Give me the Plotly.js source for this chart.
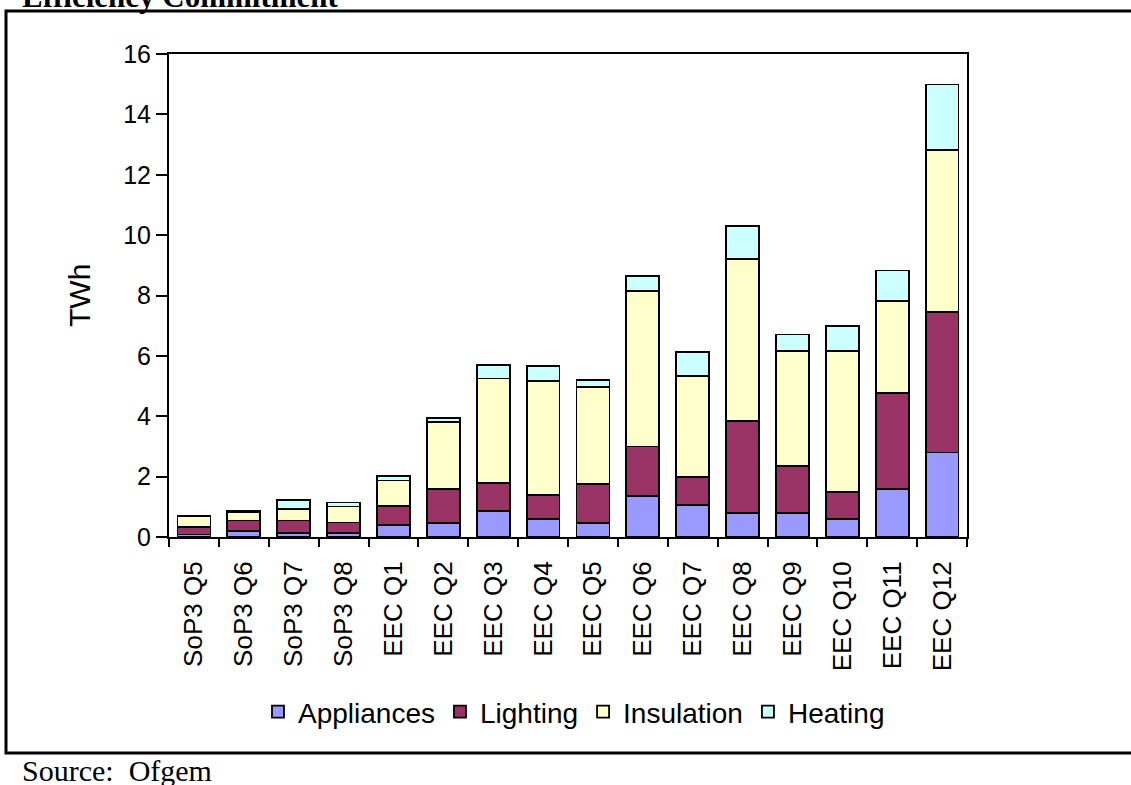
<!DOCTYPE html>
<html>
<head>
<meta charset="utf-8">
<script src="https://cdn.plot.ly/plotly-3.0.1.min.js"></script>
<style>html,body{margin:0;padding:0;background:#fff;}#chart{width:1131px;height:785px;}</style>
</head>
<body>
<div id="chart"></div>
<script>
const categories = ["SoP3 Q5","SoP3 Q6","SoP3 Q7","SoP3 Q8","EEC Q1","EEC Q2","EEC Q3","EEC Q4","EEC Q5","EEC Q6","EEC Q7","EEC Q8","EEC Q9","EEC Q10","EEC Q11","EEC Q12"];
const appliances = [0.08,0.20,0.13,0.12,0.41,0.47,0.86,0.60,0.47,1.35,1.07,0.80,0.80,0.60,1.60,2.80];
const lighting   = [0.26,0.35,0.42,0.36,0.61,1.13,0.93,0.80,1.28,1.65,0.93,3.05,1.54,0.88,3.17,4.65];
const insulation = [0.36,0.27,0.38,0.53,0.85,2.20,3.46,3.77,3.23,5.16,3.33,5.37,3.83,4.68,3.06,5.37];
const heating    = [0.00,0.05,0.29,0.13,0.15,0.13,0.46,0.50,0.22,0.49,0.79,1.08,0.54,0.83,1.00,2.17];
const seriesNames = ["Appliances","Lighting","Insulation","Heating"];
const seriesColors = ["#9999FF","#993366","#FFFFCC","#CCFFFF"];
const seriesData = [appliances, lighting, insulation, heating];
const yTicks = [0,2,4,6,8,10,12,14,16];

const FONT = "Liberation Sans, Arial, sans-serif";
const SERIF = "Liberation Serif, Times New Roman, serif";

const traces = seriesData.map((vals, i) => ({
  type: "bar",
  name: seriesNames[i],
  x: categories,
  y: vals,
  marker: {color: seriesColors[i], line: {color: "#000", width: 1.8}},
  hoverinfo: "x+y+name"
}));

// pixel -> paper helpers (plot area: x 169..967, y 54..537)
const L = 169, R = 967, T = 54, B = 537;
const px = v => (v - L) / (R - L);
const py = v => (B - v) / (B - T);

const layout = {
  width: 1131, height: 785,
  margin: {l: L, r: 1131 - R, t: T, b: 785 - B, pad: 0},
  paper_bgcolor: "#fff", plot_bgcolor: "#fff",
  barmode: "stack",
  bargap: 0.34,
  showlegend: true,
  legend: {
    orientation: "h", x: px(574), xanchor: "center", y: py(712), yanchor: "middle",
    font: {family: FONT, size: 28, color: "#000"},
    traceorder: "normal", itemwidth: 30, tracegroupgap: 0
  },
  xaxis: {
    type: "category", range: [-0.5, 15.5],
    showline: true, linecolor: "#000", linewidth: 2, mirror: true,
    ticks: "outside", tickson: "boundaries", ticklen: 8, tickwidth: 2, tickcolor: "#000",
    ticklabelstandoff: 12,
    tickangle: -90, tickfont: {family: FONT, size: 26, color: "#000"},
    showgrid: false, zeroline: false, fixedrange: true
  },
  yaxis: {
    range: [0, 16], tickvals: yTicks, ticktext: yTicks.map(String),
    showline: true, linecolor: "#000", linewidth: 2, mirror: true,
    ticks: "outside", ticklen: 11, tickwidth: 2, tickcolor: "#000",
    tickfont: {family: FONT, size: 25, color: "#000"},
    showgrid: false, zeroline: false, fixedrange: true
  },
  shapes: [
    {type: "rect", xref: "paper", yref: "paper",
     x0: px(6), x1: px(1145), y0: py(753), y1: py(11),
     line: {color: "#000", width: 3}, fillcolor: "rgba(0,0,0,0)", layer: "below"}
  ],
  annotations: [
    {text: "TWh", xref: "paper", yref: "paper", x: px(79), y: py(296),
     xanchor: "center", yanchor: "middle", textangle: -90, showarrow: false,
     font: {family: FONT, size: 30, color: "#000"}},
    {text: "<b>Efficiency Commitment</b>", xref: "paper", yref: "paper", x: px(20), y: py(-3.5),
     xanchor: "left", yanchor: "middle", showarrow: false,
     font: {family: SERIF, size: 31, color: "#000"}},
    {text: "Source:\u00a0 Ofgem", xref: "paper", yref: "paper", x: px(20), y: py(770),
     xanchor: "left", yanchor: "middle", showarrow: false,
     font: {family: SERIF, size: 30, color: "#000"}}
  ]
};

Plotly.newPlot("chart", traces, layout, {displayModeBar: false, staticPlot: false});
</script>
</body>
</html>
